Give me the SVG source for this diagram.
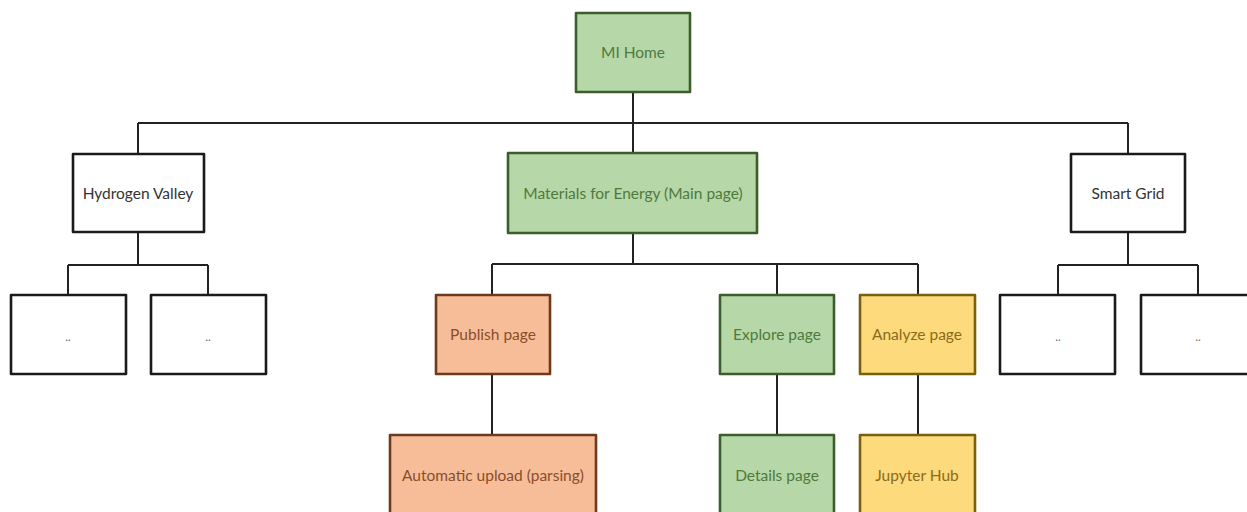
<svg xmlns="http://www.w3.org/2000/svg" width="1247" height="512" viewBox="0 0 1247 512">
<style>
.box{stroke-width:2.6;stroke-linejoin:round}
.w{fill:#ffffff;stroke:#1a1a1a}
.g{fill:#b6d7a8;stroke:#3b5e2b}
.o{fill:#f6bd98;stroke:#6e3a1c}
.y{fill:#fdda7c;stroke:#7a5f0e}
text{font-family:"Lato","Noto Sans",sans-serif;font-size:15.5px;text-anchor:middle;dominant-baseline:central}
.tw{fill:#333333}
.tg{fill:#4f7a3c}
.to{fill:#8a4d2c}
.ty{fill:#8a6c1a}
.dots{fill:#666666;font-size:12px}
.conn path{fill:none;stroke:#222222;stroke-width:2}
</style>
<rect width="1247" height="512" fill="#ffffff"/>
<g class="conn">
<path d="M633 92V123M138 123H1128M138 123V154M1128 123V154"/>
<path d="M633 123V153"/>
<path d="M138 232V265M68 265H208M68 265V295M208 265V295"/>
<path d="M1128 232V265M1058 265H1198M1058 265V295M1198 265V295"/>
<path d="M633 233V264M492 264H918M492 264V295M777 264V295M918 264V295"/>
<path d="M492 374V435M777 374V435M918 374V435"/>
</g>
<g id="mi-home"><rect class="box g" x="576" y="13" width="114" height="79"/><text class="tg" x="633" y="52">MI Home</text></g>
<g id="hydrogen-valley"><rect class="box w" x="73" y="154" width="131" height="78"/><text class="tw" x="138" y="193">Hydrogen Valley</text></g>
<g id="materials-energy"><rect class="box g" x="508" y="153" width="249" height="80"/><text class="tg" x="633" y="193">Materials for Energy (Main page)</text></g>
<g id="smart-grid"><rect class="box w" x="1071" y="154" width="114" height="78"/><text class="tw" x="1128" y="193">Smart Grid</text></g>
<g id="hv-child-1"><rect class="box w" x="11" y="295" width="115" height="79"/><text class="dots" x="68" y="336">..</text></g>
<g id="hv-child-2"><rect class="box w" x="151" y="295" width="115" height="79"/><text class="dots" x="208" y="336">..</text></g>
<g id="sg-child-1"><rect class="box w" x="1000" y="295" width="115" height="79"/><text class="dots" x="1058" y="336">..</text></g>
<g id="sg-child-2"><rect class="box w" x="1141" y="295" width="115" height="79"/><text class="dots" x="1198" y="336">..</text></g>
<g id="publish-page"><rect class="box o" x="436" y="295" width="114" height="79"/><text class="to" x="493" y="334">Publish page</text></g>
<g id="explore-page"><rect class="box g" x="720" y="295" width="114" height="79"/><text class="tg" x="777" y="334">Explore page</text></g>
<g id="analyze-page"><rect class="box y" x="860" y="295" width="115" height="79"/><text class="ty" x="917" y="334">Analyze page</text></g>
<g id="automatic-upload"><rect class="box o" x="390" y="435" width="206" height="90"/><text class="to" x="493" y="475">Automatic upload (parsing)</text></g>
<g id="details-page"><rect class="box g" x="720" y="435" width="114" height="90"/><text class="tg" x="777" y="475">Details page</text></g>
<g id="jupyter-hub"><rect class="box y" x="860" y="435" width="115" height="90"/><text class="ty" x="917" y="475">Jupyter Hub</text></g>
</svg>
